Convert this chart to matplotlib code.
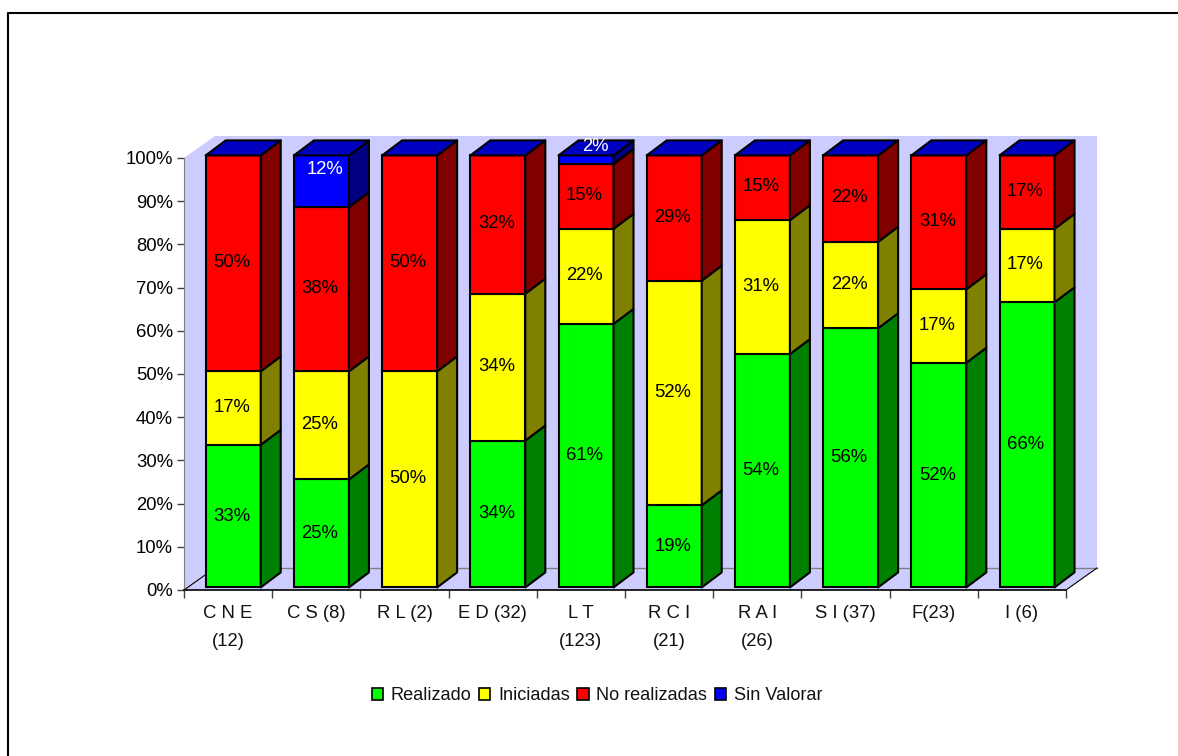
#!/usr/bin/env python3
"""Stacked 3D-look percentage bars per category."""
import matplotlib

matplotlib.use("Agg")
import matplotlib.pyplot as plt
from matplotlib.lines import Line2D
from matplotlib.patches import Patch, Polygon

W, H = 1178, 756

categories = ["C N E\n(12)", "C S (8)", "R L (2)", "E D (32)", "L T\n(123)",
              "R C I\n(21)", "R A I\n(26)", "S I (37)", "F(23)", "I (6)"]
series = ["Realizado", "Iniciadas", "No realizadas", "Sin Valorar"]

# bar heights as drawn
realizado = [33, 25, 0, 34, 61, 19, 54, 60, 52, 66]
iniciadas = [17, 25, 50, 34, 22, 52, 31, 20, 17, 17]
no_realizadas = [50, 38, 50, 32, 15, 29, 15, 20, 31, 17]
sin_valorar = [0, 12, 0, 0, 2, 0, 0, 0, 0, 0]

# S I prints different numbers from the height of its bar
label_override = {(7, 0): 56, (7, 1): 22, (7, 2): 22}

front = ["#00FF00", "#FFFF00", "#FF0000", "#0000FF"]
side = ["#008000", "#808000", "#800000", "#000080"]
top_col = "#0000C0"
wall = "#CCCCFF"

plt.rcParams["font.family"] = ["Liberation Sans", "DejaVu Sans"]
plt.rcParams["font.size"] = 13.3

fig = plt.figure(figsize=(W / 100, H / 100), dpi=100)
ax = fig.add_axes([184 / W, 1 - 590 / H, (1066 - 184) / W, (590 - 158) / H])
ax.set_xlim(0, 10)
ax.set_ylim(0, 100)
ax.patch.set_visible(False)

px_x = 88.2  # pixels per category
px_y = 4.32  # pixels per percent
wall_dx, wall_dy = 31 / px_x, 22 / px_y
bar_dx, bar_dy = 20 / px_x, 15 / px_y
bar_w = 55 / px_x
bar_shift = 0.058
base = 0.6

# back wall, side wall, floor
ax.add_patch(Polygon([(wall_dx, wall_dy), (10 + wall_dx, wall_dy),
                      (10 + wall_dx, 100 + wall_dy), (wall_dx, 100 + wall_dy)],
                     fc=wall, ec="none", clip_on=False, zorder=1))
ax.add_patch(Polygon([(0, 0), (wall_dx, wall_dy), (wall_dx, 100 + wall_dy), (0, 100)],
                     fc=wall, ec="none", clip_on=False, zorder=1))
ax.add_patch(Polygon([(0, 0), (wall_dx, wall_dy), (10 + wall_dx, wall_dy), (10, 0)],
                     fc=wall, ec="none", clip_on=False, zorder=1))
ax.plot([wall_dx, 10 + wall_dx], [wall_dy, wall_dy], color="#808080", lw=1, clip_on=False, zorder=2)
ax.plot([0, wall_dx], [0, wall_dy], color="black", lw=0.8, clip_on=False, zorder=2)
ax.plot([10, 10 + wall_dx], [0, wall_dy], color="black", lw=0.8, clip_on=False, zorder=2)

stacks = [realizado, iniciadas, no_realizadas, sin_valorar]
edge = dict(ec="black", lw=1.5, joinstyle="round", clip_on=False)
label_up = [0, 1, 1]  # pixels above the segment centre

for i in range(len(categories)):
    left = i + 0.5 + bar_shift - bar_w / 2
    right = left + bar_w
    z = 3 + i
    bottom = base
    for s, vals in enumerate(stacks):
        v = vals[i]
        if v == 0:
            continue
        ax.bar(i + 0.5 + bar_shift, v, bar_w, bottom=bottom, color=front[s],
               edgecolor="black", linewidth=1.5, zorder=z, clip_on=False)
        ax.add_patch(Polygon([(right, bottom), (right + bar_dx, bottom + bar_dy),
                              (right + bar_dx, bottom + v + bar_dy), (right, bottom + v)],
                             fc=side[s], zorder=z, **edge))
        # label: shown value, centred on the front face
        shown = label_override.get((i, s), v)
        if s == 3:
            off_x, off_y = (3.5, 12) if v > 5 else (9.5, 13)
        else:
            off_x, off_y = -1.5, label_up[s]
        ax.annotate(f"{shown}%", (i + 0.5 + bar_shift, bottom + v / 2),
                    xytext=(off_x * 0.72, off_y * 0.72), textcoords="offset points",
                    ha="center", va="center", color="white" if s == 3 else "black",
                    zorder=30, annotation_clip=False)
        bottom += v
    ax.add_patch(Polygon([(left, bottom), (right, bottom), (right + bar_dx, bottom + bar_dy),
                          (left + bar_dx, bottom + bar_dy)],
                         fc=top_col, zorder=z, **edge))

ax.set_yticks(range(0, 101, 10), [f"{t}%" for t in range(0, 101, 10)])
ax.set_xticks(range(11), [""] * 11)
ax.tick_params(axis="y", length=5, width=1, color="#404040", pad=3)
ax.tick_params(axis="x", length=6, width=1, color="#404040")
for name in ("top", "right"):
    ax.spines[name].set_visible(False)
ax.spines["left"].set_color("#808080")
ax.spines["bottom"].set_color("black")
ax.spines["bottom"].set_linewidth(1.2)
ax.spines["left"].set_zorder(2)

for i, name in enumerate(categories):
    ax.annotate(name, (i + 0.5, 0), xytext=(0, -10.5), textcoords="offset points",
                ha="center", va="top", linespacing=1.88, color="#111111", annotation_clip=False)

handles = [Patch(fc=c, ec="black", lw=1.2) for c in front]
fig.legend(handles, series, loc="center", bbox_to_anchor=(597 / W, 1 - 696 / H),
           ncol=4, frameon=False, handlelength=0.62, handleheight=0.62,
           handletextpad=0.42, columnspacing=0.42, borderpad=0, borderaxespad=0,
           labelcolor="#111111", fontsize=13.1)

# page border, runs off the right and bottom edges
fig.add_artist(Line2D([8 / W, 8 / W, 1], [0, 1 - 13 / H, 1 - 13 / H], color="black", lw=1.5))

fig.savefig("out.png", dpi=100)
